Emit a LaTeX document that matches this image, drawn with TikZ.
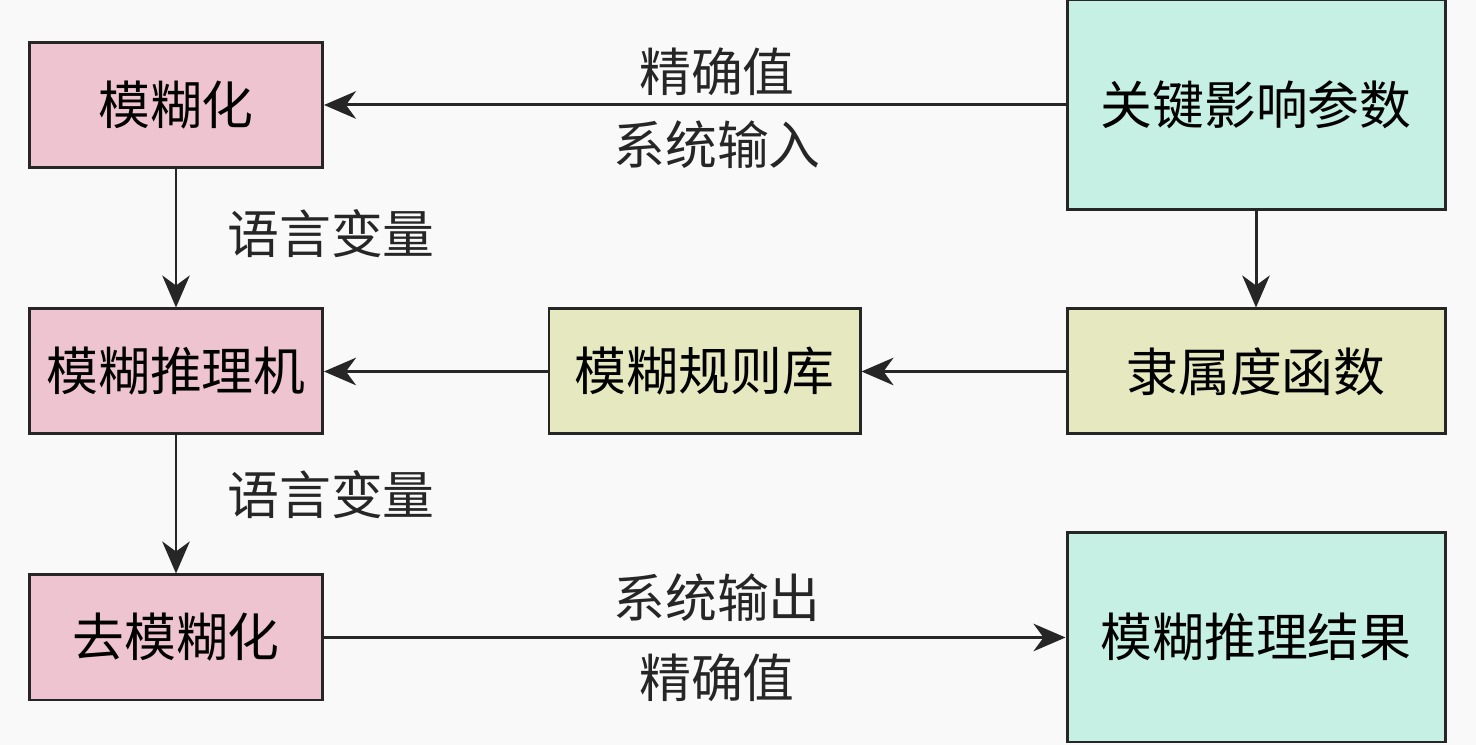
\documentclass[tikz,border=0pt]{standalone}
\usepackage{fontspec}
\newfontfamily\cjk{Noto Sans CJK SC}
\usepackage{xcolor}
\usetikzlibrary{arrows.meta}

\definecolor{boxpink}{HTML}{EEC4D0}
\definecolor{boxcyan}{HTML}{C6F0E3}
\definecolor{boxkhaki}{HTML}{E6E8C0}
\definecolor{bgcol}{HTML}{F9F9F9}

\tikzset{
    blk/.style={draw=black!85, line width=1.7pt, minimum height=2.5cm, inner sep=0pt,
        font=\cjk\fontsize{29.5}{33}\selectfont},
    arr/.style={draw=black!85, line width=1.7pt, -{Stealth[length=0.64cm, width=0.55cm, inset=0.2cm]}},
    lbl/.style={font=\cjk\fontsize{29.5}{33}\selectfont, text=black!85}
}

\begin{document}
\begin{tikzpicture}
        % 背景与边界
        \fill [bgcol] (0,0) rectangle (29.52,14.9);
        \useasboundingbox (0,0) rectangle (29.52,14.9);

        % 左列三个方框
        \node [blk, fill=boxpink, minimum width=5.86cm] (fuzz) at (3.52,12.8) {模糊化};
        \node [blk, fill=boxpink, minimum width=5.86cm] (infer) at (3.52,7.47) {模糊推理机};
        \node [blk, fill=boxpink, minimum width=5.86cm] (defuzz) at (3.52,2.15) {去模糊化};

        % 中间与右列方框
        \node [blk, fill=boxkhaki, minimum width=6.22cm] (rules) at (14.09,7.47) {模糊规则库};
        \node [blk, fill=boxcyan, minimum width=7.56cm, minimum height=4.2cm] (param) at (25.12,12.8) {关键影响参数};
        \node [blk, fill=boxkhaki, minimum width=7.56cm] (member) at (25.12,7.47) {隶属度函数};
        \node [blk, fill=boxcyan, minimum width=7.56cm, minimum height=4.18cm] (result) at (25.12,2.15) {模糊推理结果};

        % 连线
        \draw [arr] (param.west) -- (fuzz.east)
            node [lbl, pos=0.47, yshift=0.66cm] {精确值}
            node [lbl, pos=0.47, yshift=-0.8cm] {系统输入};
        \draw [arr] (fuzz.south) -- (infer.north)
            node [lbl, midway, anchor=west, xshift=0.88cm, yshift=0.1cm] {语言变量};
        \draw [arr] (infer.south) -- (defuzz.north)
            node [lbl, midway, anchor=west, xshift=0.88cm, yshift=0.2cm] {语言变量};
        \draw [arr] (param.south) -- (member.north);
        \draw [arr] (member.west) -- (rules.east);
        \draw [arr] (rules.west) -- (infer.east);
        \draw [arr] (defuzz.east) -- (result.west)
            node [lbl, pos=0.53, yshift=0.8cm] {系统输出}
            node [lbl, pos=0.53, yshift=-0.8cm] {精确值};
    \end{tikzpicture}
\end{document}
